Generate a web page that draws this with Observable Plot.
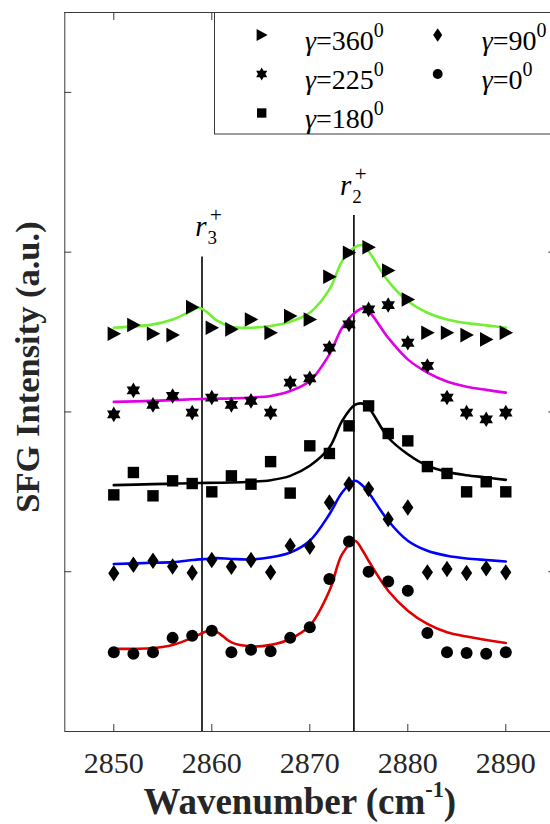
<!DOCTYPE html>
<html>
<head>
<meta charset="utf-8">
<script src="https://cdn.jsdelivr.net/npm/d3@7"></script>
<script src="https://cdn.jsdelivr.net/npm/@observablehq/plot@0.6"></script>
<style>
html, body { margin: 0; padding: 0; background: #fff; overflow: hidden; }
#wrap { position: relative; width: 550px; height: 824px; overflow: hidden; }
#legend { position: absolute; left: 0; top: 0; pointer-events: none; }
</style>
</head>
<body>
<div id="wrap"></div>
<script>
// ---- data ----
const wavenumbers = [2850, 2852, 2854, 2856, 2858, 2860, 2862, 2864, 2866, 2868, 2870,
                     2872, 2874, 2876, 2878, 2880, 2882, 2884, 2886, 2888, 2890];
const gamma0   = [0.496, 0.486, 0.496, 0.586, 0.600, 0.631, 0.496, 0.511, 0.502, 0.586, 0.652,
                  0.954, 1.189, 1.000, 0.939, 0.881, 0.617, 0.496, 0.492, 0.486, 0.496];
const gamma90  = [0.990, 1.044, 1.069, 1.033, 0.994, 1.073, 1.031, 1.073, 0.996, 1.163, 1.156,
                  1.433, 1.548, 1.517, 1.329, 1.402, 0.996, 1.017, 0.992, 1.021, 0.996];
const gamma180 = [1.481, 1.621, 1.475, 1.569, 1.552, 1.500, 1.600, 1.548, 1.689, 1.492, 1.788,
                  1.740, 1.913, 2.038, 1.865, 1.819, 1.658, 1.615, 1.500, 1.563, 1.500];
const gamma225 = [1.985, 2.135, 2.044, 2.100, 1.996, 2.090, 2.044, 2.069, 1.996, 2.183, 2.210,
                  2.402, 2.548, 2.642, 2.669, 2.433, 2.288, 2.090, 1.996, 1.954, 1.996];
const gamma360 = [2.489, 2.544, 2.489, 2.481, 2.656, 2.527, 2.517, 2.579, 2.496, 2.600, 2.579,
                  2.846, 2.996, 3.031, 2.885, 2.704, 2.496, 2.496, 2.481, 2.454, 2.496];

// fitted curves, read at these wavenumbers
const fitX     = [2850, 2854, 2856, 2858, 2858.7, 2859.5, 2860.5, 2862, 2864, 2866, 2868, 2870,
                  2872, 2873.3, 2874.6, 2875.4, 2876, 2878, 2880, 2882, 2884, 2886, 2888, 2890];
const fit0     = [0.517, 0.523, 0.542, 0.586, 0.606, 0.627, 0.623, 0.558, 0.533, 0.542, 0.579, 0.662,
                  0.881, 1.110, 1.194, 1.131, 1.069, 0.881, 0.756, 0.673, 0.621, 0.594, 0.573, 0.554];
const fit90    = [1.048, 1.056, 1.060, 1.073, 1.077, 1.080, 1.085, 1.080, 1.077, 1.090, 1.120, 1.194,
                  1.360, 1.496, 1.569, 1.538, 1.496, 1.319, 1.194, 1.131, 1.100, 1.083, 1.073, 1.064];
const fit180   = [1.542, 1.548, 1.551, 1.554, 1.555, 1.556, 1.557, 1.558, 1.563, 1.573, 1.600, 1.663,
                  1.777, 1.944, 2.044, 2.052, 2.027, 1.840, 1.735, 1.663, 1.625, 1.604, 1.590, 1.575];
const fit225   = [2.063, 2.069, 2.074, 2.079, 2.080, 2.082, 2.083, 2.085, 2.090, 2.100, 2.131, 2.194,
                  2.360, 2.527, 2.621, 2.648, 2.631, 2.464, 2.329, 2.246, 2.190, 2.158, 2.138, 2.121];
const fit360   = [2.527, 2.548, 2.579, 2.635, 2.652, 2.625, 2.573, 2.533, 2.527, 2.538, 2.565, 2.621,
                  2.767, 2.944, 3.031, 3.044, 3.006, 2.819, 2.694, 2.621, 2.579, 2.556, 2.542, 2.527];

// reference lines r3+ and r2+
const refNames = ["3", "2"];
const refX     = [2859.0, 2874.5];
const refTop   = [2.97, 3.23];
const refLabelX = [2858.31, 2873.08];
const refLabelY = [3.10, 3.36];

const xTicks = [2850, 2860, 2870, 2880, 2890];
const yTicks = [1, 2, 3, 4];
const legendLabels = ["360", "90", "225", "0", "180"];

// ---- marker shapes ----
const rad = (size) => Math.sqrt(size / Math.PI);
const symTriRight = {draw(c, s) { const r = rad(s); c.moveTo(-0.85 * r, -r); c.lineTo(r, 0); c.lineTo(-0.85 * r, r); c.closePath(); }};
const symHexagram = {draw(c, s) { const r = rad(s);
  for (const off of [-90, 90]) { for (let i = 0; i < 3; i++) { const a = (off + i * 120) * Math.PI / 180; const px = r * Math.cos(a), py = r * Math.sin(a); if (i) c.lineTo(px, py); else c.moveTo(px, py); } c.closePath(); } }};
const symDiamond = {draw(c, s) { const r = rad(s); c.moveTo(0, -r); c.lineTo(0.68 * r, 0); c.lineTo(0, r); c.lineTo(-0.68 * r, 0); c.closePath(); }};
const symSquare = {draw(c, s) { const r = rad(s); c.rect(-r, -r, 2 * r, 2 * r); }};
const symCircle = {draw(c, s) { const r = rad(s); c.moveTo(r, 0); c.arc(0, 0, r, 0, 2 * Math.PI); }};

const series = [
  {vals: gamma0,   fit: fit0,   color: "#e00000", sym: symCircle,   r: 6},
  {vals: gamma90,  fit: fit90,  color: "#0000ff", sym: symDiamond,  r: 8.2},
  {vals: gamma180, fit: fit180, color: "#000000", sym: symSquare,   r: 5.7},
  {vals: gamma225, fit: fit225, color: "#e000e8", sym: symHexagram, r: 7.8},
  {vals: gamma360, fit: fit360, color: "#70f030", sym: symTriRight, r: 7.3}
];

const serif = "'Liberation Serif', 'Times New Roman', Times, serif";
const refs = refNames.map((n, i) => ({n, x: refX[i], top: refTop[i], lx: refLabelX[i], ly: refLabelY[i]}));

const marks = [
  Plot.ruleY([0, 4.5], {stroke: "#3a3a3a", strokeWidth: 1}),
  Plot.ruleX([2845, 2895], {stroke: "#3a3a3a", strokeWidth: 1}),
  Plot.axisX({anchor: "bottom", ticks: xTicks, tickSize: -7, tickFormat: () => "", label: null, stroke: "#3a3a3a"}),
  Plot.axisX({anchor: "top", ticks: xTicks, tickSize: -7, tickFormat: () => "", label: null, stroke: "#3a3a3a"}),
  Plot.axisY({anchor: "left", ticks: yTicks, tickSize: -7, tickFormat: () => "", label: null, stroke: "#3a3a3a"}),
  Plot.axisY({anchor: "right", ticks: yTicks, tickSize: -7, tickFormat: () => "", label: null, stroke: "#3a3a3a"}),
  Plot.axisX({anchor: "bottom", ticks: xTicks, tickSize: 0, tickPadding: 20, tickFormat: d => String(d), label: null, fontSize: 30, fontFamily: serif, fill: "#262626"}),
  Plot.ruleX(refs, {x: "x", y1: 0, y2: "top", stroke: "#000", strokeWidth: 1.6}),
];
for (const s of series) {
  marks.push(Plot.line(fitX.map((x, i) => ({x, y: s.fit[i]})), {x: "x", y: "y", stroke: s.color, strokeWidth: 2.6, curve: "catmull-rom"}));
}
for (const s of series) {
  marks.push(Plot.dot(wavenumbers.map((x, i) => ({x, y: s.vals[i]})), {x: "x", y: "y", symbol: s.sym, r: s.r, fill: "#000", stroke: "none"}));
}
marks.push(
  Plot.text(refs, {x: "lx", y: "ly", text: d => "r" + d.n, fontSize: 29, fontFamily: serif, textAnchor: "start", lineAnchor: "bottom", fill: "#000"}),
  Plot.text(["Wavenumber (cm-1)"], {frameAnchor: "bottom", text: d => d, fontSize: 37, fontWeight: "bold", fontFamily: serif, textAnchor: "middle", lineAnchor: "bottom", dx: -10, dy: 82, fill: "#262626"}),
  Plot.text(["SFG Intensity (a.u.)"], {frameAnchor: "left", text: d => d, fontSize: 34.5, fontWeight: "bold", fontFamily: serif, textAnchor: "middle", lineAnchor: "bottom", rotate: -90, dx: -26, dy: -5, fill: "#262626"})
);

const chart = Plot.plot({
  width: 555, height: 824,
  marginLeft: 64.3, marginRight: 0.7, marginTop: 12, marginBottom: 93,
  style: {maxWidth: "none", background: "white", fontFamily: serif, color: "#262626", overflow: "visible"},
  x: {domain: [2845, 2895]},
  y: {domain: [0, 4.5]},
  marks
});
document.getElementById("wrap").appendChild(chart);

// superscript in the x-axis title
d3.select(chart).selectAll("text").filter(function() { return this.textContent === "Wavenumber (cm-1)"; })
  .each(function() {
    const t = d3.select(this);
    t.text(null);
    t.append("tspan").text("Wavenumber (cm");
    t.append("tspan").attr("font-size", "60%").attr("dy", "-0.75em").text("-1");
    t.append("tspan").attr("dy", "0.45em").text(")");
  });

// stacked subscript / superscript in the r labels
d3.select(chart).selectAll("text").filter(function() { return refNames.some(n => this.textContent === "r" + n); })
  .each(function() {
    const t = d3.select(this);
    const n = this.textContent.slice(1);
    t.text(null);
    t.append("tspan").attr("font-style", "italic").text("r");
    t.append("tspan").attr("font-size", 19).attr("dx", 1).attr("dy", 8).text(n);
    t.append("tspan").attr("font-size", 21).attr("dx", -7).attr("dy", -22).text("+");
  });

// ---- legend (drawn over the chart) ----
const leg = d3.select("#wrap").append("svg").attr("id", "legend").attr("width", 550).attr("height", 150);
leg.append("rect").attr("x", 214.5).attr("y", 12.5).attr("width", 400).attr("height", 121.5)
  .attr("fill", "#fff").attr("stroke", "#3a3a3a").attr("stroke-width", 1);
const legSeries = [series[4], series[1], series[3], series[0], series[2]];
const colSym = [261.7, 437.7], colTxt = [305, 481.7];
const rowSym = [35, 74, 113], rowBase = [49.5, 88.5, 127.5];
legendLabels.forEach((lab, i) => {
  const col = i < 4 ? i % 2 : 0, row = Math.floor(i / 2);
  const s = legSeries[i];
  const p = d3.path(); s.sym.draw(p, Math.PI * (s.r * 0.82) ** 2);
  leg.append("path").attr("d", p.toString()).attr("transform", `translate(${colSym[col]},${rowSym[row]})`).attr("fill", "#000");
  const t = leg.append("text").attr("x", colTxt[col]).attr("y", rowBase[row])
    .attr("font-family", serif).attr("font-size", 28).attr("fill", "#000");
  t.append("tspan").attr("font-style", "italic").text("γ");
  t.append("tspan").text("=" + lab);
  t.append("tspan").attr("font-size", 20).attr("dy", -13).text("0");
});
</script>
</body>
</html>
